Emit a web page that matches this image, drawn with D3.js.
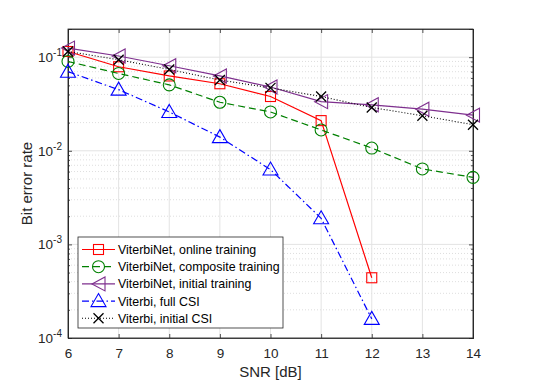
<!DOCTYPE html>
<html><head><meta charset="utf-8">
<script src="https://cdn.jsdelivr.net/npm/d3@7"></script>
<style>body{margin:0;background:#fff}svg{display:block}text{font-family:"Liberation Sans",Arial,sans-serif}</style>
</head><body><svg id="c" width="540" height="383"></svg>
<script>
const snr = [6,7,8,9,10,11,12,13,14];
const onlineTraining = [0.115,0.079,0.063,0.052,0.038,0.021,0.00044];
const compositeTraining = [0.090,0.067,0.0506,0.033,0.026,0.0167,0.0107,0.0064,0.0052];
const initialTraining = [0.125,0.103,0.081,0.063,0.048,0.0335,0.031,0.0278,0.024];
const fullCSI = [0.070,0.045,0.026,0.014,0.0063,0.0019,0.00016];
const initialCSI = [0.115,0.094,0.074,0.057,0.047,0.038,0.029,0.0237,0.019];
const xTicks = [6,7,8,9,10,11,12,13,14];
const yTickExps = [-1,-2,-3,-4];
const legendLabels = ["ViterbiNet, online training","ViterbiNet, composite training","ViterbiNet, initial training","Viterbi, full CSI","Viterbi, initial CSI"];

const svg = d3.select("#c");
const L=68,R=473,T=29,B=338;
const x = d3.scaleLinear().domain([6,14]).range([L,R]);
const y = d3.scaleLog().domain([1e-4,0.2]).range([B,T]);

const g = svg.append("g");
const minor=[];
for(let e=-4;e<=-1;e++) for(let m=2;m<=9;m++){const v=m*Math.pow(10,e); if(v<0.2) minor.push(v);}
g.selectAll(".mg").data(minor).enter().append("line")
 .attr("x1",L).attr("x2",R).attr("y1",d=>y(d)).attr("y2",d=>y(d))
 .attr("stroke","#c8c8c8").attr("stroke-width",0.6).attr("stroke-dasharray","1,2");
g.selectAll(".yg").data(yTickExps.map(e=>Math.pow(10,e))).enter().append("line")
 .attr("x1",L).attr("x2",R).attr("y1",d=>y(d)).attr("y2",d=>y(d))
 .attr("stroke","#e3e3e3").attr("stroke-width",1);
g.selectAll(".xg").data(xTicks).enter().append("line")
 .attr("x1",d=>x(d)).attr("x2",d=>x(d)).attr("y1",T).attr("y2",B)
 .attr("stroke","#e3e3e3").attr("stroke-width",1);

const axB = d3.axisBottom(x).tickValues(xTicks).tickSize(-4).tickPadding(10).tickFormat(d3.format("d"));
const axT = d3.axisTop(x).tickValues(xTicks).tickSize(-4).tickFormat("");
const axLft = d3.axisLeft(y).tickValues(yTickExps.map(e=>Math.pow(10,e))).tickSize(-4).tickFormat("");
const axRt = d3.axisRight(y).tickValues(yTickExps.map(e=>Math.pow(10,e))).tickSize(-4).tickFormat("");
const axLm = d3.axisLeft(y).tickValues(minor).tickSize(-2).tickFormat("");
const axRm = d3.axisRight(y).tickValues(minor).tickSize(-2).tickFormat("");
function style(sel){sel.selectAll("path,line").attr("stroke","#262626").attr("stroke-width",0.8);
 sel.selectAll("text").attr("fill","#262626").attr("font-size",13.5).attr("font-family","Liberation Sans, Arial, sans-serif");}
style(svg.append("g").attr("transform",`translate(0,${B})`).call(axB));
style(svg.append("g").attr("transform",`translate(0,${T})`).call(axT));
style(svg.append("g").attr("transform",`translate(${L},0)`).call(axLft));
style(svg.append("g").attr("transform",`translate(${R},0)`).call(axRt));
style(svg.append("g").attr("transform",`translate(${L},0)`).call(axLm));
style(svg.append("g").attr("transform",`translate(${R},0)`).call(axRm));
svg.append("rect").attr("x",L).attr("y",T).attr("width",R-L).attr("height",B-T).attr("fill","none").attr("stroke","#262626").attr("stroke-width",0.8);

yTickExps.forEach(e=>{
 const t=svg.append("text").attr("x",L-6).attr("y",y(Math.pow(10,e))+5).attr("text-anchor","end").attr("fill","#262626").attr("font-size",13.5);
 t.append("tspan").text("10");
 t.append("tspan").attr("dy",-6).attr("font-size",10).text("-"+Math.abs(e));
});

svg.append("text").attr("x",(L+R)/2).attr("y",377).attr("text-anchor","middle").attr("font-size",15).attr("fill","#262626").text("SNR [dB]");
svg.append("text").attr("transform",`translate(32,${(T+B)/2}) rotate(-90)`).attr("text-anchor","middle").attr("font-size",15).attr("fill","#262626").text("Bit error rate");

function marker(sel,type,color){
 if(type==="square") sel.append("rect").attr("x",-5).attr("y",-5).attr("width",10).attr("height",10).attr("fill","none").attr("stroke",color).attr("stroke-width",1.1);
 else if(type==="circle") sel.append("circle").attr("r",6).attr("fill","none").attr("stroke",color).attr("stroke-width",1.1);
 else if(type==="left") sel.append("path").attr("d","M-6.5,0L6.5,-7L6.5,7Z").attr("fill","none").attr("stroke",color).attr("stroke-width",1.1);
 else if(type==="up") sel.append("path").attr("d","M0,-7.5L7.5,5.5L-7.5,5.5Z").attr("fill","none").attr("stroke",color).attr("stroke-width",1.1);
 else if(type==="x") sel.append("path").attr("d","M-5,-5L5,5M-5,5L5,-5").attr("stroke",color).attr("stroke-width",1.3);
}
const series=[
 {v:onlineTraining,c:"#ff0000",dash:null,m:"square",w:1.2},
 {v:compositeTraining,c:"#008000",dash:"7,4",m:"circle",w:1.2},
 {v:initialTraining,c:"#7e2f8e",dash:null,m:"left",w:1.2},
 {v:fullCSI,c:"#0000ff",dash:"7,3,1.5,3",m:"up",w:1.2},
 {v:initialCSI,c:"#000000",dash:"1,2",m:"x",w:1.1}
];
const line=d3.line().x((d,i)=>x(snr[i])).y(d=>y(d));
const plot=svg.append("g");
series.forEach(s=>{
 plot.append("path").datum(s.v).attr("d",line).attr("fill","none").attr("stroke",s.c).attr("stroke-width",s.w).attr("stroke-dasharray",s.dash);
 plot.selectAll(null).data(s.v).enter().append("g").attr("transform",(d,i)=>`translate(${x(snr[i])},${y(d)})`).each(function(){marker(d3.select(this),s.m,s.c);});
});

const lg=svg.append("g");
lg.append("rect").attr("x",78).attr("y",237).attr("width",205).attr("height",91).attr("fill","#fff").attr("stroke","#262626").attr("stroke-width",0.8);
series.forEach((s,i)=>{
 const yy=249.5+i*17.2;
 lg.append("line").attr("x1",82).attr("x2",115).attr("y1",yy).attr("y2",yy).attr("stroke",s.c).attr("stroke-width",s.w).attr("stroke-dasharray",s.dash);
 marker(lg.append("g").attr("transform",`translate(98.5,${yy})`),s.m,s.c);
 lg.append("text").attr("x",118).attr("y",yy+4.5).attr("font-size",12.4).attr("fill","#000").text(legendLabels[i]);
});
</script></body></html>
